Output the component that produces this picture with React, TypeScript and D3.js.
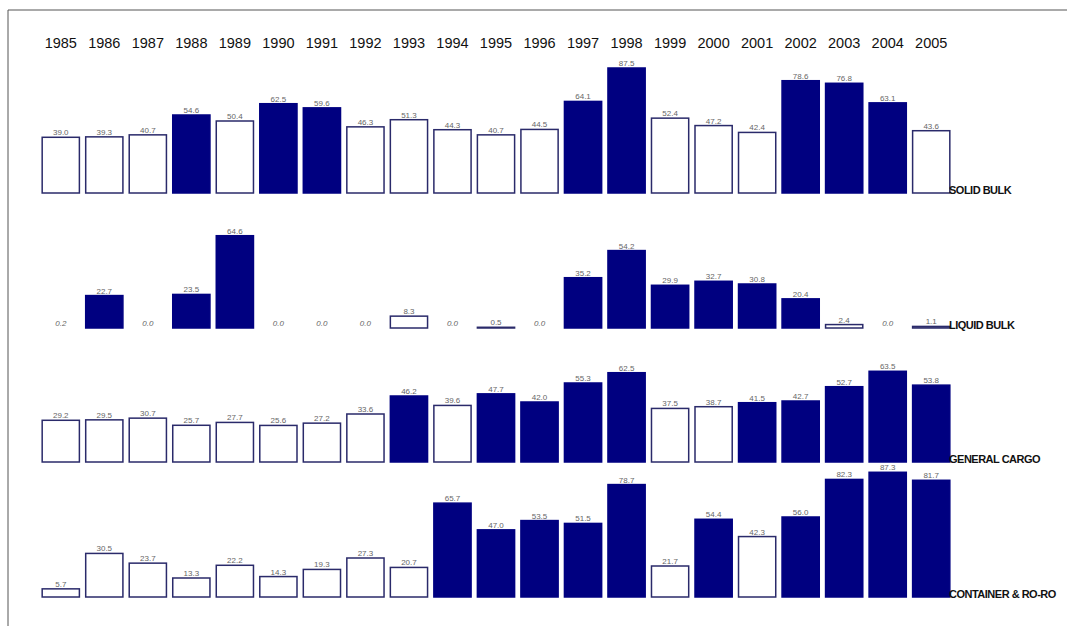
import { scaleBand, scaleLinear } from "d3";

const years = ["1985","1986","1987","1988","1989","1990","1991","1992","1993","1994","1995","1996","1997","1998","1999","2000","2001","2002","2003","2004","2005"];
const rowNames = ["SOLID BULK", "LIQUID BULK", "GENERAL CARGO", "CONTAINER & RO-RO"];

const solidBulk = [39.0,39.3,40.7,54.6,50.4,62.5,59.6,46.3,51.3,44.3,40.7,44.5,64.1,87.5,52.4,47.2,42.4,78.6,76.8,63.1,43.6];
const solidFilled = [0,0,0,1,0,1,1,0,0,0,0,0,1,1,0,0,0,1,1,1,0];
const liquidBulk = [0.2,22.7,0.0,23.5,64.6,0.0,0.0,0.0,8.3,0.0,0.5,0.0,35.2,54.2,29.9,32.7,30.8,20.4,2.4,0.0,1.1];
const liquidFilled = [0,1,0,1,1,0,0,0,0,0,0,0,1,1,1,1,1,1,0,0,0];
const generalCargo = [29.2,29.5,30.7,25.7,27.7,25.6,27.2,33.6,46.2,39.6,47.7,42.0,55.3,62.5,37.5,38.7,41.5,42.7,52.7,63.5,53.8];
const generalFilled = [0,0,0,0,0,0,0,0,1,0,1,1,1,1,0,0,1,1,1,1,1];
const container = [5.7,30.5,23.7,13.3,22.2,14.3,19.3,27.3,20.7,65.7,47.0,53.5,51.5,78.7,21.7,54.4,42.3,56.0,82.3,87.3,81.7];
const containerFilled = [0,0,0,0,0,0,0,0,0,1,1,1,1,1,0,1,0,1,1,1,1];

const rows = [
  { name: rowNames[0], values: solidBulk, filled: solidFilled, base: 193 },
  { name: rowNames[1], values: liquidBulk, filled: liquidFilled, base: 328 },
  { name: rowNames[2], values: generalCargo, filled: generalFilled, base: 462 },
  { name: rowNames[3], values: container, filled: containerFilled, base: 597 },
];

const NAVY = "#000080";

export default function App() {
  const width = 1067;
  const height = 626;
  const x = scaleBand().domain(years).range([40, 952]).paddingInner(0.145).paddingOuter(0.05);
  const h = scaleLinear().domain([0, 87.5]).range([0, 125]);

  return (
    <svg width={width} height={height} style={{ position: "absolute", left: 0, top: 0 }} fontFamily="Arial, 'Liberation Sans', sans-serif">
      <rect width={width} height={height} fill="#fff" />
      <line x1={8} x2={width} y1={10} y2={10} stroke="#555" />
      <line x1={8} x2={8} y1={10} y2={height} stroke="#555" />
      {years.map((yr) => (
        <text key={yr} x={(x(yr) ?? 0) + x.bandwidth() / 2} y={48} fontSize={14.5} textAnchor="middle" fill="#111">{yr}</text>
      ))}
      {rows.map((row) => (
        <g key={row.name}>
          {row.values.map((v, i) => {
            const bx = x(years[i]) ?? 0;
            const bh = h(v);
            const filled = row.filled[i] === 1;
            const zero = v === 0 || v < 0.3;
            return (
              <g key={i}>
                {!zero && (
                  <rect x={bx} y={row.base - bh} width={x.bandwidth()} height={bh}
                    fill={filled ? NAVY : "#fff"} stroke={filled ? NAVY : "#2a2a6a"} strokeWidth={1.5} />
                )}
                <text x={bx + x.bandwidth() / 2} y={zero ? row.base - 2 : row.base - bh - 2}
                  fontSize={8} textAnchor="middle" fill="#666" fontStyle={zero ? "italic" : "normal"}>
                  {v.toFixed(1)}
                </text>
              </g>
            );
          })}
          <text x={949} y={row.base + 1} fontSize={11} fontWeight="bold" fill="#111" letterSpacing={-0.5}>{row.name}</text>
        </g>
      ))}
    </svg>
  );
}
